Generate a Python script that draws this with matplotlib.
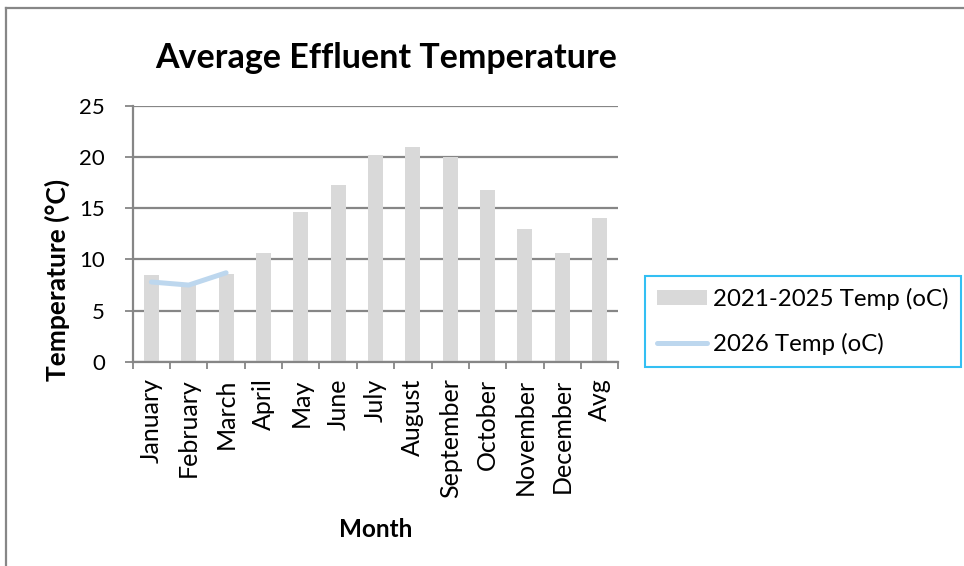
import numpy as np
import matplotlib
matplotlib.use("Agg")
import matplotlib.pyplot as plt
from matplotlib.lines import Line2D
from matplotlib.patches import Patch

plt.rcParams['font.family'] = ['Lato', 'DejaVu Sans']

months = ["January", "February", "March", "April", "May", "June", "July",
          "August", "September", "October", "November", "December", "Avg"]
temp_2021_2025 = [8.5, 7.5, 8.6, 10.6, 14.6, 17.3, 20.2, 21.0, 20.0, 16.8, 13.0, 10.6, 14.1]
temp_2026 = [7.8, 7.5, 8.7]

grid_col = "#868686"
bar_col = "#D9D9D9"
line_col = "#BDD7EE"

fig = plt.figure(figsize=(9.64, 5.66), dpi=100)
ax = fig.add_axes([132.7/964, 1-361.8/566, (618.3-132.7)/964, (361.8-106)/566])

x = np.arange(len(months))
ax.bar(x, temp_2021_2025, width=0.4, color=bar_col, zorder=2)
ax.plot(np.arange(len(temp_2026)), temp_2026, color=line_col, lw=3.6,
        solid_capstyle='round', zorder=3)

ax.set_xlim(-0.5, len(months) - 0.5)
ax.set_ylim(0, 25)
ax.set_yticks(range(0, 26, 5))
ax.yaxis.grid(True, color=grid_col, lw=1.6, zorder=1)
ax.set_axisbelow(True)

# category labels at centres, tick marks between categories
ax.set_xticks(x)
ax.set_xticklabels(months, rotation=90, fontsize=18)
ax.set_xticks(np.arange(-0.5, len(months)), minor=True)
ax.tick_params(axis='x', which='major', length=0, pad=12)
ax.tick_params(axis='x', which='minor', length=5, width=1.3, color=grid_col, direction='out')
ax.tick_params(axis='y', length=6, width=1.3, color=grid_col, labelsize=16, pad=14)

for side in ['top', 'right']:
    ax.spines[side].set_visible(False)
for side in ['left', 'bottom']:
    ax.spines[side].set_color(grid_col)
    ax.spines[side].set_linewidth(1.6)

ax.set_title("Average Effluent Temperature", fontsize=24.5, fontweight='bold', pad=27,
             loc='center', x=0.998, ha='right')
ax.set_ylabel("Temperature (°C)", fontsize=19, fontweight='bold')
ax.yaxis.set_label_coords(-0.13, 0.32)
ax.set_xlabel("Month", fontsize=17.5, fontweight='bold', labelpad=14)

handles = [Patch(facecolor=bar_col, edgecolor='none'),
           Line2D([0], [0], color=line_col, lw=3.6, solid_capstyle='round')]
leg = fig.legend(handles, ["2021-2025 Temp (oC)", "2026 Temp (oC)"],
                 loc='upper left', bbox_to_anchor=(645/964, 1-276/566),
                 fontsize=17.3, frameon=True, fancybox=False, borderaxespad=0,
                 handlelength=2.1, handleheight=0.55, handletextpad=0.25,
                 labelspacing=0.95, borderpad=0.5)
leg.get_frame().set_edgecolor("#00B0F0")
leg.get_frame().set_linewidth(1.5)

# outer chart border, running off the right and bottom edges
fig.add_artist(Line2D([6/964, 6/964], [0, 1-8/566], color="#878787", lw=1.6))
fig.add_artist(Line2D([6/964, 1], [1-8/566, 1-8/566], color="#878787", lw=1.6))

# caption line above the chart, cut off at the top edge
fig.text(13/964, 1+4/566, "Figure 2: Average Effluent Temperature 2026 compared to 2021-2025 Temperatures",
         fontsize=15, style='italic', va='baseline', ha='left')

fig.savefig("out.png", dpi=100)
